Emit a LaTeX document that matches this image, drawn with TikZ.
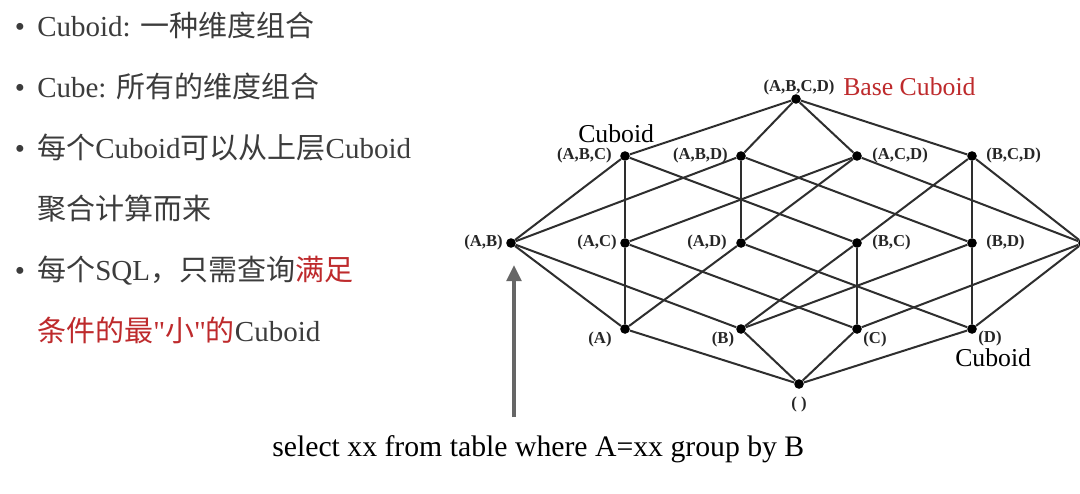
\documentclass[tikz,border=0pt]{standalone}
\usepackage{fontspec}
\setmainfont{Liberation Serif}
\newfontfamily\cjk{Noto Sans CJK SC}
\usetikzlibrary{arrows.meta}
\definecolor{txtgray}{HTML}{3C3C3C}
\definecolor{slred}{HTML}{BE2A2C}
\definecolor{edgegray}{HTML}{2E2E2E}
\definecolor{arrgray}{HTML}{666666}
\begin{document}
\begin{tikzpicture}[x=0.75pt,y=-0.75pt,
 dot/.style={circle,fill=black,inner sep=0pt,minimum size=7.2pt},
 lab/.style={font=\bfseries\fontsize{12.5}{13}\selectfont,text=black!85,inner sep=0pt},
 edge/.style={draw=edgegray,line width=1.5pt},
 body/.style={font=\fontsize{21.75}{24}\selectfont,text=txtgray,inner sep=0pt,anchor=base west},
 bul/.style={font=\fontsize{21.75}{24}\selectfont,text=txtgray,inner sep=0pt,anchor=base},
 big/.style={font=\fontsize{19.3}{22}\selectfont,inner sep=0pt,anchor=base west},
]
\useasboundingbox (0,0) rectangle (1080,493);
\clip (0,0) rectangle (1080,493);
\fill[white] (0,0) rectangle (1080,493);

% left bullet text
\node[bul] (b1) at (20,36) {\textbullet};
\node[body] (t1) at (37,36) {Cuboid: {\cjk 一种维度组合}};
\node[bul] (b2) at (20,97) {\textbullet};
\node[body] (t2) at (37,97) {Cube: {\cjk 所有的维度组合}};
\node[bul] (b3) at (20,158) {\textbullet};
\node[body] (t3) at (37,158) {{\cjk 每个}Cuboid{\cjk 可以从上层}Cuboid};
\node[body] (t4) at (37,219) {{\cjk 聚合计算而来}};
\node[bul] (b5) at (20,280) {\textbullet};
\node[body] (t5) at (37,280) {{\cjk 每个}SQL{\cjk ，只需查询}\textcolor{slred}{\cjk 满足}};
\node[body] (t6) at (37,341) {\textcolor{slred}{{\cjk 条件的最}\textquotedbl{\cjk 小}\textquotedbl{\cjk 的}}Cuboid};

% lattice dots
\node[dot] (abcd) at (796,99) {};
\node[dot] (abc) at (625,156) {};
\node[dot] (abd) at (741,156) {};
\node[dot] (acd) at (857,156) {};
\node[dot] (bcd) at (972,156) {};
\node[dot] (ab) at (511,243) {};
\node[dot] (ac) at (625,243) {};
\node[dot] (ad) at (741,243) {};
\node[dot] (bc) at (857,243) {};
\node[dot] (bd) at (972,243) {};
\node[dot] (cd) at (1083,243) {};
\node[dot] (a) at (625,329) {};
\node[dot] (b) at (741,329) {};
\node[dot] (c) at (857,329) {};
\node[dot] (d) at (972,329) {};
\node[dot] (e) at (799,384) {};

% edges
\foreach \u/\v in {abcd/abc,abcd/abd,abcd/acd,abcd/bcd,
  abc/ab,abc/ac,abc/bc, abd/ab,abd/ad,abd/bd, acd/ac,acd/ad,acd/cd, bcd/bc,bcd/bd,bcd/cd,
  ab/a,ab/b, ac/a,ac/c, ad/a,ad/d, bc/b,bc/c, bd/b,bd/d, cd/c,cd/d,
  a/e,b/e,c/e,d/e}
  \draw[edge] (\u) -- (\v);

% lattice labels
\node[lab] (lABCD) at (799,87) {(A,B,C,D)};
\node[lab,anchor=east] (lABC) at (612,155) {(A,B,C)};
\node[lab,anchor=east] (lABD) at (728,155) {(A,B,D)};
\node[lab,anchor=west] (lACD) at (872,155) {(A,C,D)};
\node[lab,anchor=west] (lBCD) at (986,155) {(B,C,D)};
\node[lab,anchor=east] (lAB) at (503,242) {(A,B)};
\node[lab,anchor=east] (lAC) at (617,242) {(A,C)};
\node[lab,anchor=east] (lAD) at (727,242) {(A,D)};
\node[lab,anchor=west] (lBC) at (872,242) {(B,C)};
\node[lab,anchor=west] (lBD) at (986,242) {(B,D)};
\node[lab] (lA) at (600,339) {(A)};
\node[lab] (lB) at (723,339) {(B)};
\node[lab] (lC) at (875,339) {(C)};
\node[lab] (lD) at (990,338) {(D)};
\node[lab] (lE) at (799,404) {( )};

% annotations
\node[big,text=slred] (base) at (843,95) {Base Cuboid};
\node[big] (cub1) at (578,142) {Cuboid};
\node[big] (cub2) at (955,366) {Cuboid};

% arrow and query
\coordinate (arrbot) at (514,417);
\coordinate (arrtop) at (514,265);
\draw[line width=2.6pt,arrgray,-{Triangle[length=12pt,width=11pt]}] (arrbot) -- (arrtop);
\node[font=\fontsize{22.3}{26}\selectfont,inner sep=0pt,anchor=base west] (sql) at (272,456) {select xx from table where A=xx group by B};
\end{tikzpicture}
\end{document}
